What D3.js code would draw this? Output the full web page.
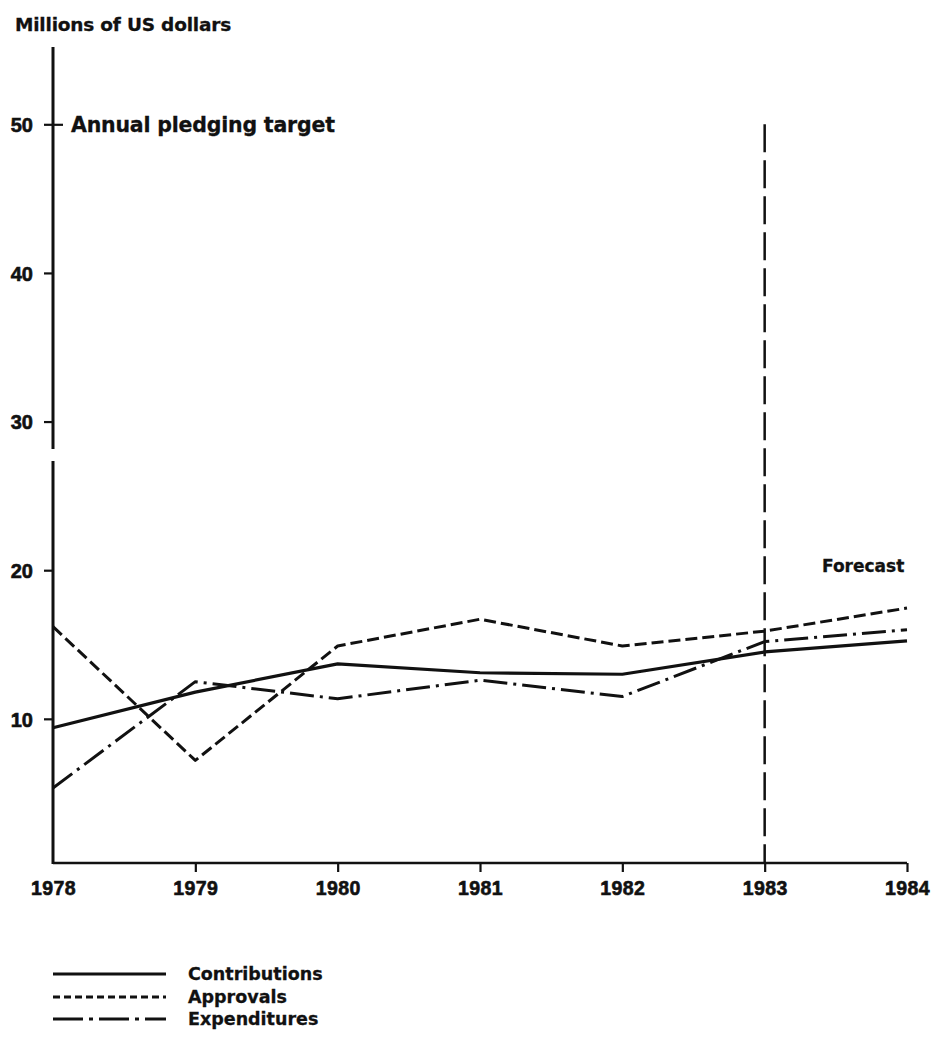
<!DOCTYPE html>
<html>
<head>
<meta charset="utf-8">
<script src="https://cdn.jsdelivr.net/npm/d3@7"></script>
<style>
  html, body { margin: 0; padding: 0; background: #fff; }
  svg { display: block; }
  text.lbl { font-family: "DejaVu Sans", sans-serif; font-weight: bold; fill: #111; stroke: #111; stroke-width: 0.3px; }
  .tick text { font-family: "Liberation Sans", Arial, sans-serif; font-weight: bold; fill: #111; stroke: #111; stroke-width: 0.6px; }
</style>
</head>
<body>
<svg id="chart" width="935" height="1048"></svg>
<script>
const years = [1978, 1979, 1980, 1981, 1982, 1983, 1984];
const contributions = [9.4, 11.8, 13.7, 13.1, 13.0, 14.5, 15.25];
const approvals = [16.2, 7.2, 14.9, 16.7, 14.9, 15.9, 17.45];
const expenditures = [5.35, 12.5, 11.35, 12.6, 11.5, 15.2, 16.0];
const yTicks = [10, 20, 30, 40, 50];
const seriesNames = ["Contributions", "Approvals", "Expenditures"];
const pledgingTarget = 50;
const forecastYear = 1983;

const svg = d3.select("#chart");
const ink = "#111";

const x = d3.scaleLinear().domain([1978, 1984]).range([53, 907]);
const y = d3.scaleLinear().domain([0.3, 50]).range([863, 124.3]);

const styles = [
  { dash: null, width: 3.2 },
  { dash: "12,5", width: 3 },
  { dash: "24,6,3,6", width: 3 }
];
const legendDash = [null, "7,4", "30,6,4,6"];

// y axis line with break
const yAxisX = x(1978);
const topY = 47;
const breakTop = 449, breakBottom = 461;
svg.append("line").attr("x1", yAxisX).attr("x2", yAxisX).attr("y1", topY).attr("y2", breakTop)
  .attr("stroke", ink).attr("stroke-width", 3);
svg.append("line").attr("x1", yAxisX).attr("x2", yAxisX).attr("y1", breakBottom).attr("y2", y.range()[0] + 1)
  .attr("stroke", ink).attr("stroke-width", 3);

// y ticks
const yAxis = d3.axisLeft(y).tickValues(yTicks).tickSize(9).tickPadding(11).tickFormat(d3.format("d"));
const gy = svg.append("g").attr("transform", `translate(${yAxisX},0)`).call(yAxis);
gy.select(".domain").remove();
gy.selectAll(".tick line").attr("stroke", ink).attr("stroke-width", 2.2);
gy.selectAll(".tick text").style("font-size", "20px").attr("dy", "0.36em");
gy.selectAll(".tick").filter(d => d === pledgingTarget).select("line").attr("x1", 10);

// x axis
const xAxis = d3.axisBottom(x).tickValues(years).tickSize(9).tickPadding(9).tickFormat(d3.format("d"));
const gx = svg.append("g").attr("transform", `translate(0,${y.range()[0]})`).call(xAxis);
gx.select(".domain").attr("d", `M${x(1978)},0H${x(1984)}`).attr("stroke", ink).attr("stroke-width", 2.6);
gx.selectAll(".tick line").attr("stroke", ink).attr("stroke-width", 2.2);
gx.selectAll(".tick").filter(d => d === 1978).select("line").remove();
gx.selectAll(".tick text").style("font-size", "19.5px").attr("dy", "0.71em").attr("letter-spacing", "0.4");

// forecast vertical dashed line
svg.append("line").attr("x1", x(forecastYear)).attr("x2", x(forecastYear))
  .attr("y1", y(pledgingTarget)).attr("y2", y.range()[0])
  .attr("stroke", ink).attr("stroke-width", 2.5).attr("stroke-dasharray", "28,8");

// series
const allSeries = [contributions, approvals, expenditures];
const line = d3.line().x((d, i) => x(years[i])).y(d => y(d)).curve(d3.curveLinear);
allSeries.forEach((s, k) => {
  svg.append("path").datum(s).attr("d", line).attr("fill", "none")
    .attr("stroke", ink).attr("stroke-width", styles[k].width)
    .attr("stroke-linejoin", "round")
    .attr("stroke-dasharray", styles[k].dash);
});

// texts
svg.append("text").attr("class", "lbl").attr("x", 15).attr("y", 31).attr("font-size", 18.5).attr("letter-spacing", "-0.2").text("Millions of US dollars");
svg.append("text").attr("class", "lbl").attr("x", 71).attr("y", y(pledgingTarget) + 8).attr("font-size", 20.5).attr("letter-spacing", "-0.2").text("Annual pledging target");
svg.append("text").attr("class", "lbl").attr("x", 822).attr("y", 572).attr("font-size", 17).text("Forecast");

// legend
const legendY = [974, 997, 1019];
seriesNames.forEach((name, k) => {
  svg.append("line").attr("x1", 53).attr("x2", 166).attr("y1", legendY[k]).attr("y2", legendY[k])
    .attr("stroke", ink).attr("stroke-width", 3.2).attr("stroke-dasharray", legendDash[k]);
  svg.append("text").attr("class", "lbl").attr("x", 188).attr("y", legendY[k] + 6).attr("font-size", 17.5).text(name);
});
</script>
</body>
</html>
